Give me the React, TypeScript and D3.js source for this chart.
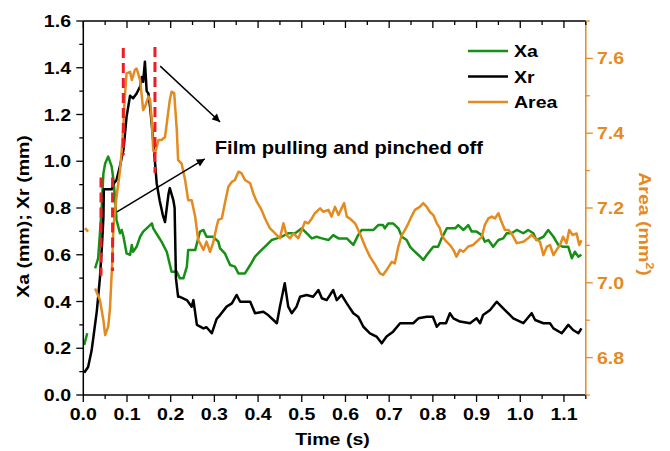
import React from "react";
import * as d3 from "d3";

// ---------- data (time in s) ----------
const xrSeries: [number, number][] = [
  [0.002,0.095],[0.011,0.12],[0.019,0.19],[0.024,0.26],[0.031,0.36],[0.038,0.5],[0.043,0.65],[0.046,0.76],[0.047,0.88],
  [0.065,0.88],[0.068,0.9],[0.076,0.92],[0.084,0.98],[0.092,1.05],[0.099,1.19],[0.107,1.28],[0.114,1.27],[0.122,1.29],
  [0.130,1.32],[0.134,1.36],[0.137,1.34],[0.141,1.426],[0.145,1.30],[0.149,1.29],[0.153,1.23],[0.160,1.09],[0.168,0.905],
  [0.175,0.83],[0.182,0.77],[0.187,0.74],[0.195,0.86],[0.198,0.885],[0.206,0.834],[0.209,0.8],[0.212,0.5],[0.217,0.42],
  [0.221,0.42],[0.237,0.406],[0.248,0.378],[0.252,0.406],[0.260,0.3],[0.275,0.285],[0.282,0.29],[0.294,0.264],[0.305,0.325],
  [0.313,0.342],[0.328,0.378],[0.340,0.392],[0.351,0.428],[0.359,0.399],[0.382,0.399],[0.393,0.35],[0.412,0.356],[0.423,0.342],
  [0.443,0.307],[0.450,0.378],[0.461,0.478],[0.469,0.378],[0.477,0.35],[0.488,0.378],[0.496,0.42],[0.511,0.428],[0.526,0.42],
  [0.538,0.449],[0.546,0.414],[0.557,0.406],[0.572,0.449],[0.580,0.406],[0.591,0.428],[0.603,0.392],[0.618,0.35],[0.629,0.335],
  [0.641,0.292],[0.656,0.264],[0.671,0.25],[0.683,0.221],[0.694,0.25],[0.709,0.271],[0.725,0.307],[0.755,0.307],[0.767,0.328],
  [0.786,0.335],[0.800,0.335],[0.809,0.292],[0.816,0.307],[0.830,0.307],[0.839,0.35],[0.847,0.328],[0.862,0.314],[0.885,0.307],
  [0.900,0.328],[0.908,0.307],[0.915,0.342],[0.931,0.364],[0.946,0.399],[0.957,0.378],[0.969,0.356],[0.984,0.328],[1.007,0.307],
  [1.026,0.35],[1.034,0.321],[1.053,0.307],[1.068,0.307],[1.076,0.285],[1.095,0.264],[1.110,0.3],[1.121,0.278],[1.133,0.264],[1.140,0.285]
];

const xaSeries: [number, number | null][] = [
  [0.002,0.214],[0.009,0.264],[0.018,null],
  [0.027,0.542],[0.034,0.585],[0.038,0.69],[0.042,0.8],[0.046,0.948],[0.050,0.99],[0.057,1.02],[0.065,0.977],[0.069,0.92],
  [0.073,0.834],[0.076,0.75],[0.080,0.72],[0.084,0.692],[0.088,0.706],[0.092,0.677],[0.099,0.606],[0.107,0.599],[0.111,0.642],
  [0.114,0.613],[0.122,0.634],[0.130,0.677],[0.137,0.699],[0.145,0.713],[0.157,0.734],[0.160,0.713],[0.172,0.677],[0.179,0.656],
  [0.191,0.613],[0.202,0.527],[0.214,0.527],[0.221,0.499],[0.229,0.499],[0.237,0.549],[0.240,0.62],[0.256,0.62],[0.267,0.699],
  [0.275,0.706],[0.282,0.677],[0.297,0.677],[0.309,0.656],[0.313,0.627],[0.324,0.606],[0.336,0.556],[0.347,0.549],[0.355,0.52],
  [0.370,0.52],[0.382,0.556],[0.393,0.592],[0.404,0.613],[0.420,0.642],[0.431,0.663],[0.443,0.67],[0.454,0.677],[0.469,0.692],
  [0.485,0.692],[0.500,0.713],[0.511,0.692],[0.523,0.67],[0.534,0.677],[0.546,0.67],[0.561,0.663],[0.572,0.684],[0.584,0.67],
  [0.603,0.67],[0.618,0.642],[0.629,0.684],[0.637,0.706],[0.664,0.706],[0.675,0.727],[0.686,0.727],[0.690,0.713],[0.698,0.734],
  [0.709,0.734],[0.721,0.713],[0.729,0.677],[0.740,0.663],[0.748,0.634],[0.755,0.62],[0.767,0.599],[0.778,0.578],[0.789,0.606],
  [0.801,0.634],[0.812,0.634],[0.820,0.67],[0.832,0.713],[0.851,0.713],[0.858,0.727],[0.870,0.706],[0.881,0.727],[0.889,0.699],
  [0.900,0.699],[0.912,0.684],[0.919,0.656],[0.927,0.663],[0.938,0.634],[0.950,0.663],[0.961,0.67],[0.969,0.692],[0.980,0.692],
  [0.992,0.706],[1.007,0.692],[1.018,0.706],[1.030,0.692],[1.037,0.663],[1.053,0.677],[1.064,0.706],[1.076,0.677],[1.087,0.642],
  [1.098,0.634],[1.110,0.634],[1.118,0.585],[1.125,0.613],[1.133,0.592],[1.140,0.6]
];

const areaSeries: [number, number | null][] = [
  [0.004,7.146],[0.011,7.137],[0.019,null],
  [0.027,6.985],[0.038,6.954],[0.046,6.9],[0.050,6.86],[0.057,6.883],[0.061,6.93],[0.066,7.05],[0.069,7.15],[0.076,7.23],
  [0.084,7.3],[0.088,7.355],[0.092,7.426],[0.095,7.498],[0.099,7.56],[0.107,7.564],[0.111,7.542],[0.118,7.569],[0.122,7.573],
  [0.130,7.542],[0.134,7.498],[0.137,7.462],[0.141,7.47],[0.149,7.498],[0.153,7.49],[0.157,7.426],[0.160,7.355],[0.164,7.346],
  [0.172,7.382],[0.179,7.382],[0.187,7.39],[0.192,7.435],[0.198,7.489],[0.202,7.511],[0.208,7.507],[0.214,7.408],[0.217,7.328],
  [0.225,7.319],[0.233,7.275],[0.240,7.221],[0.248,7.221],[0.256,7.177],[0.263,7.114],[0.267,7.106],[0.275,7.088],[0.282,7.11],
  [0.290,7.083],[0.297,7.106],[0.305,7.15],[0.309,7.168],[0.317,7.172],[0.324,7.213],[0.332,7.257],[0.340,7.27],[0.347,7.275],
  [0.355,7.297],[0.362,7.293],[0.370,7.275],[0.382,7.266],[0.389,7.239],[0.397,7.217],[0.408,7.195],[0.416,7.172],[0.427,7.146],
  [0.439,7.132],[0.450,7.119],[0.458,7.159],[0.465,7.128],[0.473,7.119],[0.481,7.132],[0.492,7.119],[0.500,7.141],[0.507,7.163],
  [0.515,7.159],[0.523,7.172],[0.530,7.186],[0.542,7.199],[0.549,7.19],[0.561,7.195],[0.568,7.177],[0.576,7.203],[0.584,7.181],
  [0.591,7.199],[0.597,7.213],[0.603,7.177],[0.610,7.172],[0.622,7.159],[0.633,7.132],[0.645,7.097],[0.656,7.07],[0.668,7.048],
  [0.679,7.025],[0.686,7.021],[0.694,7.034],[0.706,7.056],[0.713,7.052],[0.721,7.097],[0.729,7.128],[0.736,7.141],[0.744,7.159],
  [0.751,7.177],[0.759,7.195],[0.770,7.203],[0.778,7.213],[0.786,7.203],[0.793,7.19],[0.801,7.181],[0.809,7.159],[0.816,7.146],
  [0.820,7.128],[0.828,7.114],[0.839,7.101],[0.847,7.088],[0.854,7.07],[0.862,7.088],[0.870,7.083],[0.881,7.097],[0.892,7.101],
  [0.904,7.114],[0.912,7.123],[0.919,7.155],[0.927,7.172],[0.935,7.177],[0.942,7.172],[0.950,7.186],[0.957,7.163],[0.965,7.141],
  [0.973,7.141],[0.980,7.132],[0.992,7.106],[1.007,7.11],[1.018,7.119],[1.026,7.128],[1.034,7.119],[1.045,7.11],[1.053,7.074],
  [1.061,7.097],[1.068,7.101],[1.076,7.074],[1.083,7.088],[1.091,7.101],[1.098,7.123],[1.106,7.106],[1.112,7.141],[1.120,7.128],
  [1.129,7.132],[1.135,7.101],[1.140,7.114]
];

// red dashed markers: [time, top value, bottom value] on left axis
const dashMarkers: [number, number, number][] = [
  [0.0405, 0.93, 0.51],
  [0.067, 0.93, 0.53],
  [0.0915, 1.484, 1.027],
  [0.164, 1.489, 0.95],
];

// arrows: [t0, v0, t1, v1] on left axis
const arrows: [number, number, number, number][] = [
  [0.176, 1.407, 0.313, 1.168],
  [0.077, 0.783, 0.278, 1.01],
];

const xTickLabels = ["0.0","0.1","0.2","0.3","0.4","0.5","0.6","0.7","0.8","0.9","1.0","1.1"];
const yLeftTickLabels = ["0.0","0.2","0.4","0.6","0.8","1.0","1.2","1.4","1.6"];
const yRightTickLabels = ["6.8","7.0","7.2","7.4","7.6"];
const legendItems = [
  { name: "Xa", color: "#159015" },
  { name: "Xr", color: "#000000" },
  { name: "Area", color: "#e48a1e" },
];

const GREEN = "#159015";
const ORANGE = "#e48a1e";
const FONT = "'Liberation Sans', Arial, Helvetica, sans-serif";
const SX = 1.15;

function SText(props: {
  x: number; y: number; anchor?: string; rotate?: number; size?: number; fill?: string; children: React.ReactNode;
}) {
  const { x, y, anchor = "start", rotate = 0, size = 17, fill = "#000", children } = props;
  return (
    <g transform={`translate(${x},${y}) rotate(${rotate}) scale(${SX},1)`}>
      <text x={0} y={0} textAnchor={anchor} fontFamily={FONT} fontWeight="bold" fontSize={size} fill={fill}>
        {children}
      </text>
    </g>
  );
}

export default function App() {
  const W = 670, H = 451;
  const left = 83.3, right = 585.8, top = 21, bottom = 395;

  const x = d3.scaleLinear().domain([0, 1.15]).range([left, right]);
  const yL = d3.scaleLinear().domain([0, 1.6]).range([bottom, top]);
  const yR = d3.scaleLinear().domain([6.7, 7.7]).range([bottom, top]);

  const lineL = d3.line<[number, number | null]>()
    .defined((d) => d[1] != null)
    .x((d) => x(d[0]))
    .y((d) => yL(d[1] as number));
  const lineR = d3.line<[number, number | null]>()
    .defined((d) => d[1] != null)
    .x((d) => x(d[0]))
    .y((d) => yR(d[1] as number));

  const xTicks = d3.range(0, 24).map((i) => i * 0.05).filter((v) => v <= 1.15 + 1e-9);
  const yLTicks = d3.range(0, 17).map((i) => i * 0.1);
  const yRTicks = d3.range(0, 11).map((i) => 6.7 + i * 0.1);

  const majorLen = 7, minorLen = 4;
  const SW = 2.5;

  return (
    <svg width={W} height={H} style={{ position: "absolute", left: 0, top: 0, background: "#fff" }}>
      <defs>
        <marker id="ah" viewBox="0 0 10 10" refX="10" refY="5" markerWidth="9" markerHeight="8" markerUnits="userSpaceOnUse" orient="auto">
          <path d="M0,0 L10,5 L0,10 z" fill="#000" />
        </marker>
      </defs>
      <rect x={0} y={0} width={W} height={H} fill="#fff" />

      {/* series */}
      <path d={lineL(xaSeries) || ""} fill="none" stroke={GREEN} strokeWidth={SW} strokeLinejoin="round" />
      <path d={lineL(xrSeries as [number, number | null][]) || ""} fill="none" stroke="#000" strokeWidth={SW} strokeLinejoin="round" />
      <path d={lineR(areaSeries) || ""} fill="none" stroke={ORANGE} strokeWidth={SW} strokeLinejoin="round" />

      {/* red dashed markers */}
      {dashMarkers.map(([t, v0, v1], i) => (
        <line key={"dm" + i} x1={x(t)} x2={x(t)} y1={yL(v0)} y2={yL(v1)} stroke="#ee1c24" strokeWidth={3} strokeDasharray="10,5" />
      ))}

      {/* arrows */}
      {arrows.map(([t0, v0, t1, v1], i) => (
        <line key={"ar" + i} x1={x(t0)} y1={yL(v0)} x2={x(t1)} y2={yL(v1)} stroke="#000" strokeWidth={1.5} markerEnd="url(#ah)" />
      ))}
      <SText x={x(0.301)} y={yL(1.031)} size={17.5}>Film pulling and pinched off</SText>

      {/* axes frame */}
      <line x1={left} x2={right} y1={top} y2={top} stroke="#000" strokeWidth={1.5} />
      <line x1={left} x2={right} y1={bottom} y2={bottom} stroke="#000" strokeWidth={1.5} />
      <line x1={left} x2={left} y1={top} y2={bottom} stroke="#000" strokeWidth={1.5} />
      <line x1={right} x2={right} y1={top} y2={bottom} stroke={ORANGE} strokeWidth={1.5} />

      {/* x ticks bottom (outward) and top (inward) */}
      {xTicks.map((t, i) => {
        const len = i % 2 === 0 ? majorLen : minorLen;
        return (
          <g key={"xt" + i}>
            <line x1={x(t)} x2={x(t)} y1={bottom} y2={bottom + len} stroke="#000" strokeWidth={1.3} />
            <line x1={x(t)} x2={x(t)} y1={top} y2={top + len} stroke="#000" strokeWidth={1.3} />
          </g>
        );
      })}
      {xTickLabels.map((s, i) => (
        <SText key={"xl" + i} x={x(i * 0.1)} y={420} anchor="middle">{s}</SText>
      ))}

      {/* left ticks */}
      {yLTicks.map((v, i) => {
        const len = i % 2 === 0 ? majorLen : minorLen;
        return <line key={"ylt" + i} x1={left - len} x2={left} y1={yL(v)} y2={yL(v)} stroke="#000" strokeWidth={1.3} />;
      })}
      {yLeftTickLabels.map((s, i) => (
        <SText key={"yll" + i} x={71} y={yL(i * 0.2) + 6} anchor="end">{s}</SText>
      ))}

      {/* right ticks */}
      {yRTicks.map((v, i) => {
        const len = i % 2 === 1 ? majorLen : minorLen;
        return <line key={"yrt" + i} x1={right} x2={right + len} y1={yR(v)} y2={yR(v)} stroke={ORANGE} strokeWidth={1.3} />;
      })}
      {yRightTickLabels.map((s, i) => (
        <SText key={"yrl" + i} x={597} y={yR(6.8 + i * 0.2) + 6} fill={ORANGE}>{s}</SText>
      ))}

      {/* axis titles */}
      <SText x={332.5} y={445} anchor="middle">Time (s)</SText>
      <SText x={28.5} y={216.5} anchor="middle" rotate={-90}>Xa (mm); Xr (mm)</SText>
      <g transform={`translate(639,224) rotate(90) scale(${SX},1)`}>
        <text x={0} y={0} textAnchor="middle" fontFamily={FONT} fontWeight="bold" fontSize={17} fill={ORANGE}>
          Area (mm<tspan fontSize={11} dy={-7}>2</tspan><tspan dy={7}>)</tspan>
        </text>
      </g>

      {/* legend */}
      {legendItems.map((it, i) => {
        const by = 57 + i * 25.5;
        return (
          <g key={"lg" + i}>
            <line x1={468} x2={508} y1={by - 6} y2={by - 6} stroke={it.color} strokeWidth={SW} />
            <SText x={514} y={by}>{it.name}</SText>
          </g>
        );
      })}
    </svg>
  );
}
